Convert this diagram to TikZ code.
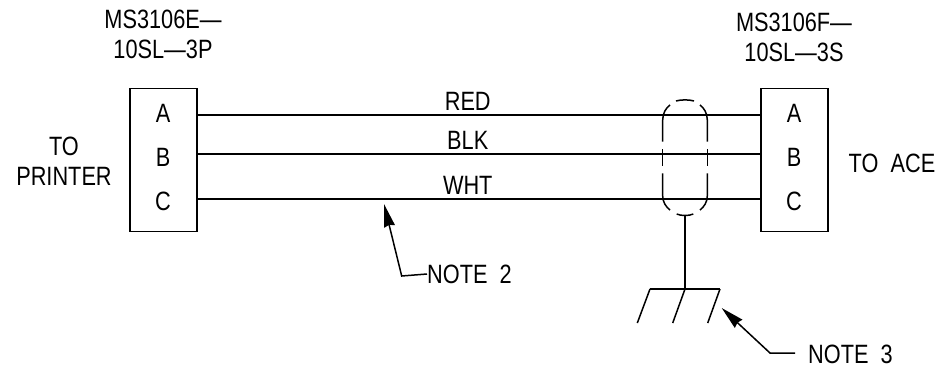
\documentclass[tikz,border=0pt]{standalone}
\usepackage{fontspec}
\setmainfont[FakeStretch=0.82]{Liberation Sans}
\usepackage{tikz}
\usetikzlibrary{arrows.meta}
\tikzset{
lbl/.style={inner sep=0pt, font=\fontsize{26.5}{30}\selectfont, align=center},
conn/.style={draw, line width=1.5pt, minimum width=67pt, minimum height=143pt},
wire/.style={line width=1.5pt},
lead/.style={line width=1.5pt, -{Stealth[length=23pt,width=11pt,inset=1.5pt]}}
}
\begin{document}
\begin{tikzpicture}[x=1pt,y=-1pt]
\useasboundingbox (0,0) rectangle (943,368);
% connectors
\node[conn] (plug) at (163.5,160) {};
\node[conn] (sock) at (794.5,160) {};
\node[lbl] (plugA) at (163,113) {A};
\node[lbl] (plugB) at (163,157) {B};
\node[lbl] (plugC) at (163,201) {C};
\node[lbl] (sockA) at (794,113) {A};
\node[lbl] (sockB) at (794,157) {B};
\node[lbl] (sockC) at (794,201) {C};
\node[lbl] (plugname) at (163,34) {MS3106E---\\10SL---3P};
\node[lbl] (sockname) at (794,37) {MS3106F---\\10SL---3S};
\node[lbl] (printer) at (64,161) {TO\\PRINTER};
\node[lbl] (ace) at (892,163) {TO\ \ ACE};
% wires
\coordinate (p1) at (plug.east |- 0,115);
\coordinate (p2) at (plug.east |- 0,154);
\coordinate (p3) at (plug.east |- 0,199);
\coordinate (s1) at (sock.west |- 0,115);
\coordinate (s2) at (sock.west |- 0,154);
\coordinate (s3) at (sock.west |- 0,199);
\path[wire, every node/.style={lbl, above=4pt, text depth=0pt, pos=0.48}]
(p1) edge node (red) {RED} (s1)
(p2) edge node (blk) {BLK} (s2)
(p3) edge node (wht) {WHT} (s3);
% shield and ground
\draw[wire] (676,101) .. controls (681,99.5) and (689,99.5) .. (694,101);
\draw[wire] (662.7,141.7) -- (662.7,120) .. controls (662.7,113) and (666,108) .. (670,105);
\draw[wire] (707.3,141.7) -- (707.3,120) .. controls (707.3,113) and (704,108) .. (700,105);
\draw[wire] (662.7,149.3) -- (662.7,166);
\draw[wire] (707.3,149.3) -- (707.3,166);
\draw[wire] (662.7,173.3) -- (662.7,196) .. controls (662.7,202) and (666,207) .. (670,210);
\draw[wire] (707.3,173.3) -- (707.3,196) .. controls (707.3,202) and (704,207) .. (700,210);
\draw[wire] (676.7,214) .. controls (681,216) and (689,216) .. (693.3,214);
\coordinate (shield) at (685,215.5);
\coordinate (gnd) at (685,289);
\coordinate (gndl) at (650,289);
\coordinate (gndr) at (720,289);
\draw[wire] (shield) -- (gnd);
\draw[wire] (gndl) -- (gndr);
\draw[wire] (gndl) -- +(-12.7,34);
\draw[wire] (gnd) -- +(-12.3,34);
\draw[wire] (gndr) -- +(-12.3,34);
% notes
\node[lbl, anchor=west] (note2) at (427,274) {NOTE\ \ 2};
\node[lbl, anchor=west] (note3) at (808,354) {NOTE\ \ 3};
\coordinate (tip2) at (384,204);
\coordinate (tip3) at (721.7,308);
\draw[lead] (note2.west) -- (401.7,276) -- (tip2);
\draw[lead] (795,353) -- (770,353) -- (tip3);
\end{tikzpicture}
\end{document}
